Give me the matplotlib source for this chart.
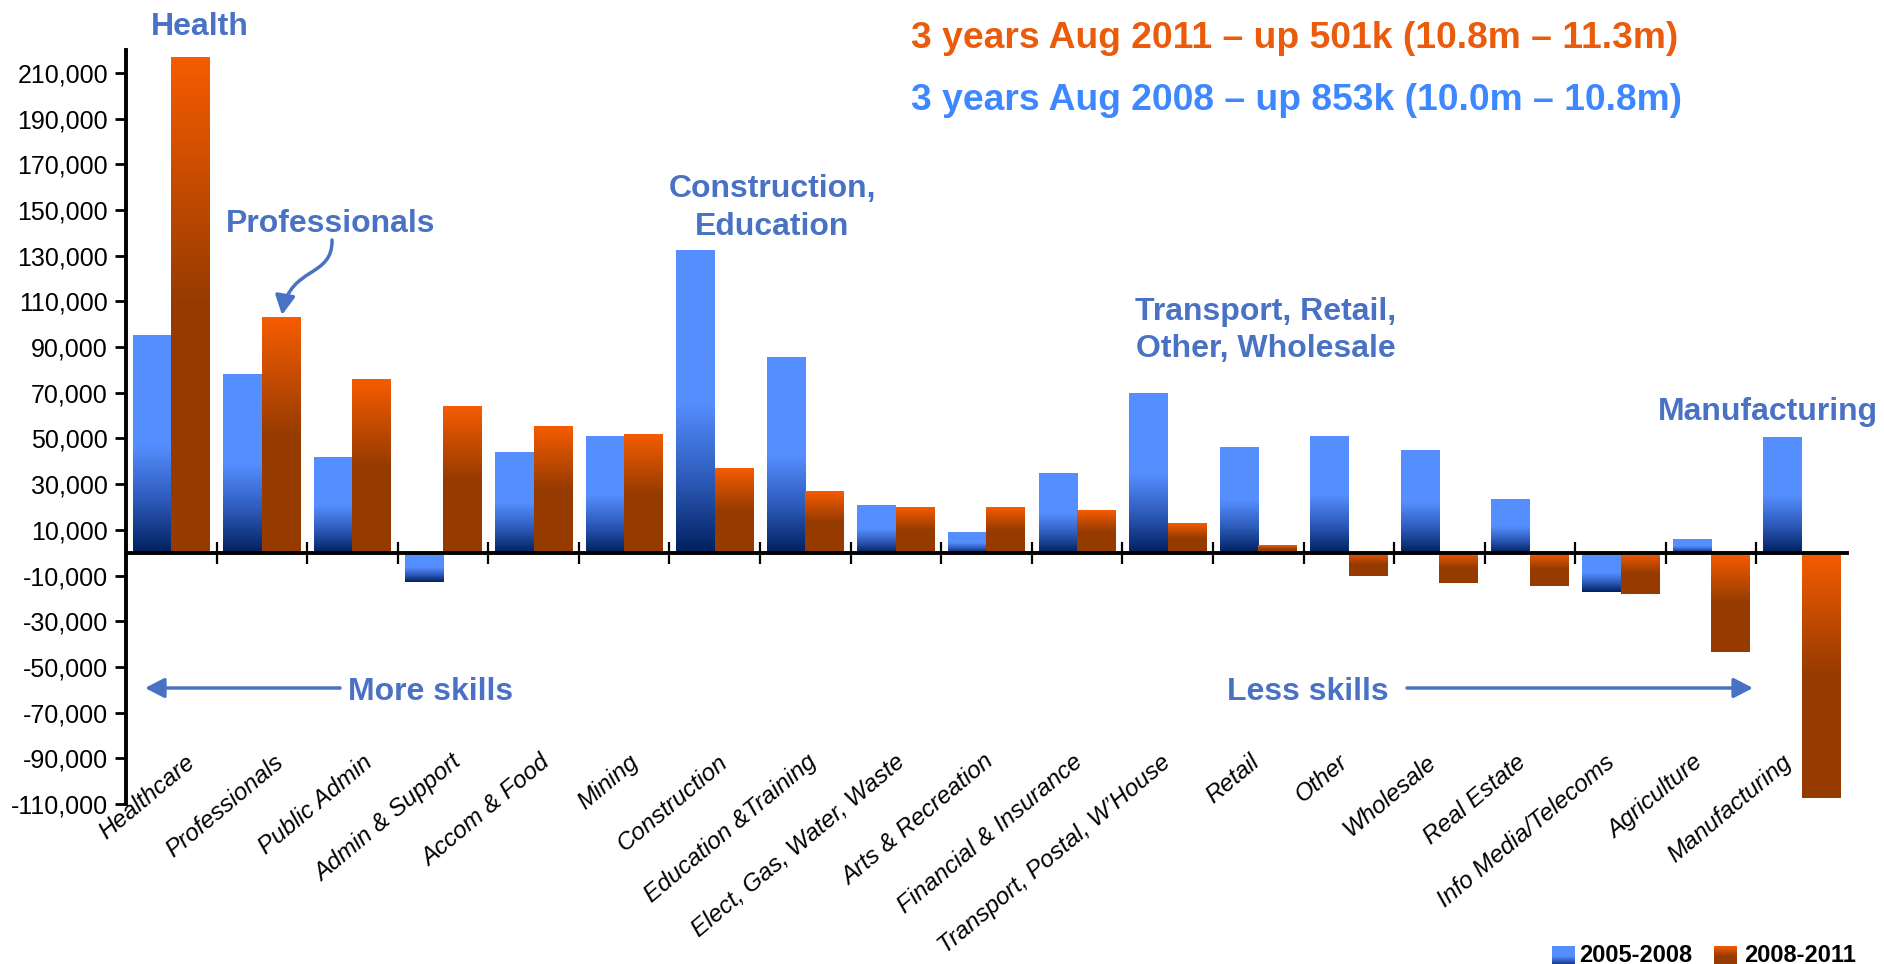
import numpy as np
import matplotlib
matplotlib.use("Agg")
import matplotlib.pyplot as plt
from matplotlib.colors import LinearSegmentedColormap
from matplotlib.patches import FancyArrowPatch
from matplotlib.path import Path
from matplotlib.transforms import Affine2D, blended_transform_factory

plt.rcParams['font.family'] = ['Liberation Sans', 'DejaVu Sans']

# data (jobs change)
categories = ["Healthcare", "Professionals", "Public Admin", "Admin & Support",
              "Accom & Food", "Mining", "Construction", "Education &Training",
              "Elect, Gas, Water, Waste", "Arts & Recreation", "Financial & Insurance",
              "Transport, Postal, W\u2019House", "Retail", "Other", "Wholesale",
              "Real Estate", "Info Media/Telecoms", "Agriculture", "Manufacturing"]
change_2005_2008 = [95000, 78000, 42000, -13000, 44000, 51000, 132500, 85500,
                    21000, 9000, 35000, 69700, 46000, 50800, 44800, 23400,
                    -17000, 5800, 50500]
change_2008_2011 = [217000, 103000, 76000, 64000, 55500, 51800, 36800, 27100,
                    19700, 19700, 18800, 12700, 3200, -10400, -13300, -14700,
                    -18300, -43300, -107300]
series_names = ["2005-2008", "2008-2011"]
yticks = np.arange(-110000, 210001, 20000)

W, H = 1884, 964
fig = plt.figure(figsize=(W / 100, H / 100), dpi=100)
pxT = Affine2D().scale(1 / W, -1 / H).translate(0, 1) + fig.transFigure
ax = fig.add_axes([126 / W, 1 - 804 / H, (1847 - 126) / W, (804 - 50) / H])

blue_cmap = LinearSegmentedColormap.from_list(
    "bl", [(0, "#558fff"), (0.5, "#558fff"), (0.75, "#2f5cbd"), (1, "#00205e")])
orange_cmap = LinearSegmentedColormap.from_list(
    "or", [(0, "#f65c00"), (0.5, "#963b00"), (1, "#963b00")])
grad = np.linspace(0, 1, 256).reshape(-1, 1)

x = np.arange(len(categories))
w = 0.425
for vals, off, cmap in [(change_2005_2008, -w / 2, blue_cmap),
                        (change_2008_2011, w / 2, orange_cmap)]:
    bars = ax.bar(x + off, vals, w, color="none", edgecolor="none")
    for b in bars:
        x0 = b.get_x()
        y0, y1 = sorted([b.get_y(), b.get_y() + b.get_height()])
        ax.imshow(grad, extent=(x0, x0 + b.get_width(), y0, y1), aspect="auto",
                  cmap=cmap, origin="upper", interpolation="bilinear", zorder=2)

ax.set_xlim(-0.5, len(categories) - 0.5)
ax.set_ylim(-110000, 220000)
ax.set_yticks(yticks)
ax.set_yticklabels([f"{v:,}" for v in yticks], fontsize=18)
ax.tick_params(axis="y", length=8, width=2, pad=5)

ax.spines["top"].set_visible(False)
ax.spines["right"].set_visible(False)
ax.spines["left"].set_linewidth(2.8)
ax.spines["bottom"].set_position(("data", 0))
ax.spines["bottom"].set_linewidth(2.8)
ax.spines["bottom"].set_zorder(3)
ax.set_xticks(np.arange(0.5, len(categories) - 1, 1))
ax.tick_params(axis="x", direction="inout", length=16, width=1.6, labelbottom=False)

# category labels along the bottom
lt = blended_transform_factory(ax.transData, ax.transAxes)
for i, name in enumerate(categories):
    ax.text(0.152 + 0.979 * i, 0.071, name, transform=lt, rotation=40,
            rotation_mode="anchor", ha="right", va="top", fontsize=17.5,
            style="italic")

ann = "#4a72c4"
fs = 23
fig.text(200, 35, "Health", transform=pxT, color=ann, fontsize=fs,
         fontweight="bold", ha="center", va="baseline")
fig.text(331, 232, "Professionals", transform=pxT, color=ann, fontsize=fs,
         fontweight="bold", ha="center", va="baseline")
fig.text(772, 197, "Construction,", transform=pxT, color=ann, fontsize=fs,
         fontweight="bold", ha="center", va="baseline")
fig.text(772, 235, "Education", transform=pxT, color=ann, fontsize=fs,
         fontweight="bold", ha="center", va="baseline")
fig.text(1266, 320, "Transport, Retail,", transform=pxT, color=ann, fontsize=fs,
         fontweight="bold", ha="center", va="baseline")
fig.text(1266, 357, "Other, Wholesale", transform=pxT, color=ann, fontsize=fs,
         fontweight="bold", ha="center", va="baseline")
fig.text(1768, 420, "Manufacturing", transform=pxT, color=ann, fontsize=fs,
         fontweight="bold", ha="center", va="baseline")
fig.text(348, 700, "More skills", transform=pxT, color=ann, fontsize=fs,
         fontweight="bold", ha="left", va="baseline")
fig.text(1227, 700, "Less skills", transform=pxT, color=ann, fontsize=fs,
         fontweight="bold", ha="left", va="baseline")

astyle = "-|>,head_length=0.58,head_width=0.3"
for a, b in [((340, 688), (145, 688)), ((1407, 688), (1753, 688))]:
    fig.add_artist(FancyArrowPatch(a, b, transform=pxT, arrowstyle=astyle,
                                   mutation_scale=20, color=ann, lw=2.5,
                                   shrinkA=0, shrinkB=0))
curve = Path([(332, 240), (333, 278), (290, 266), (282, 315)],
             [Path.MOVETO, Path.CURVE4, Path.CURVE4, Path.CURVE4])
fig.add_artist(FancyArrowPatch(path=curve, transform=pxT, arrowstyle=astyle,
                               mutation_scale=20, color=ann, lw=2.5))

fig.text(911, 48, "3 years Aug 2011 \u2013 up 501k (10.8m \u2013 11.3m)",
         transform=pxT, color="#ea5b0c", fontsize=26.8, fontweight="bold",
         va="baseline")
fig.text(911, 110, "3 years Aug 2008 \u2013 up 853k (10.0m \u2013 10.8m)",
         transform=pxT, color="#3d87ff", fontsize=26.8, fontweight="bold",
         va="baseline")

# legend
for (sx, tx), name, cmap in zip([(1552, 1579), (1714, 1744)], series_names,
                                [blue_cmap, orange_cmap]):
    sax = fig.add_axes([sx / W, 1 - 966 / H, 23 / W, 20 / H])
    sax.imshow(grad, aspect="auto", cmap=cmap, origin="upper")
    sax.set_axis_off()
    fig.text(tx, 962, name, transform=pxT, fontsize=17, fontweight="bold",
             va="baseline")

fig.savefig("out.png", dpi=100)
